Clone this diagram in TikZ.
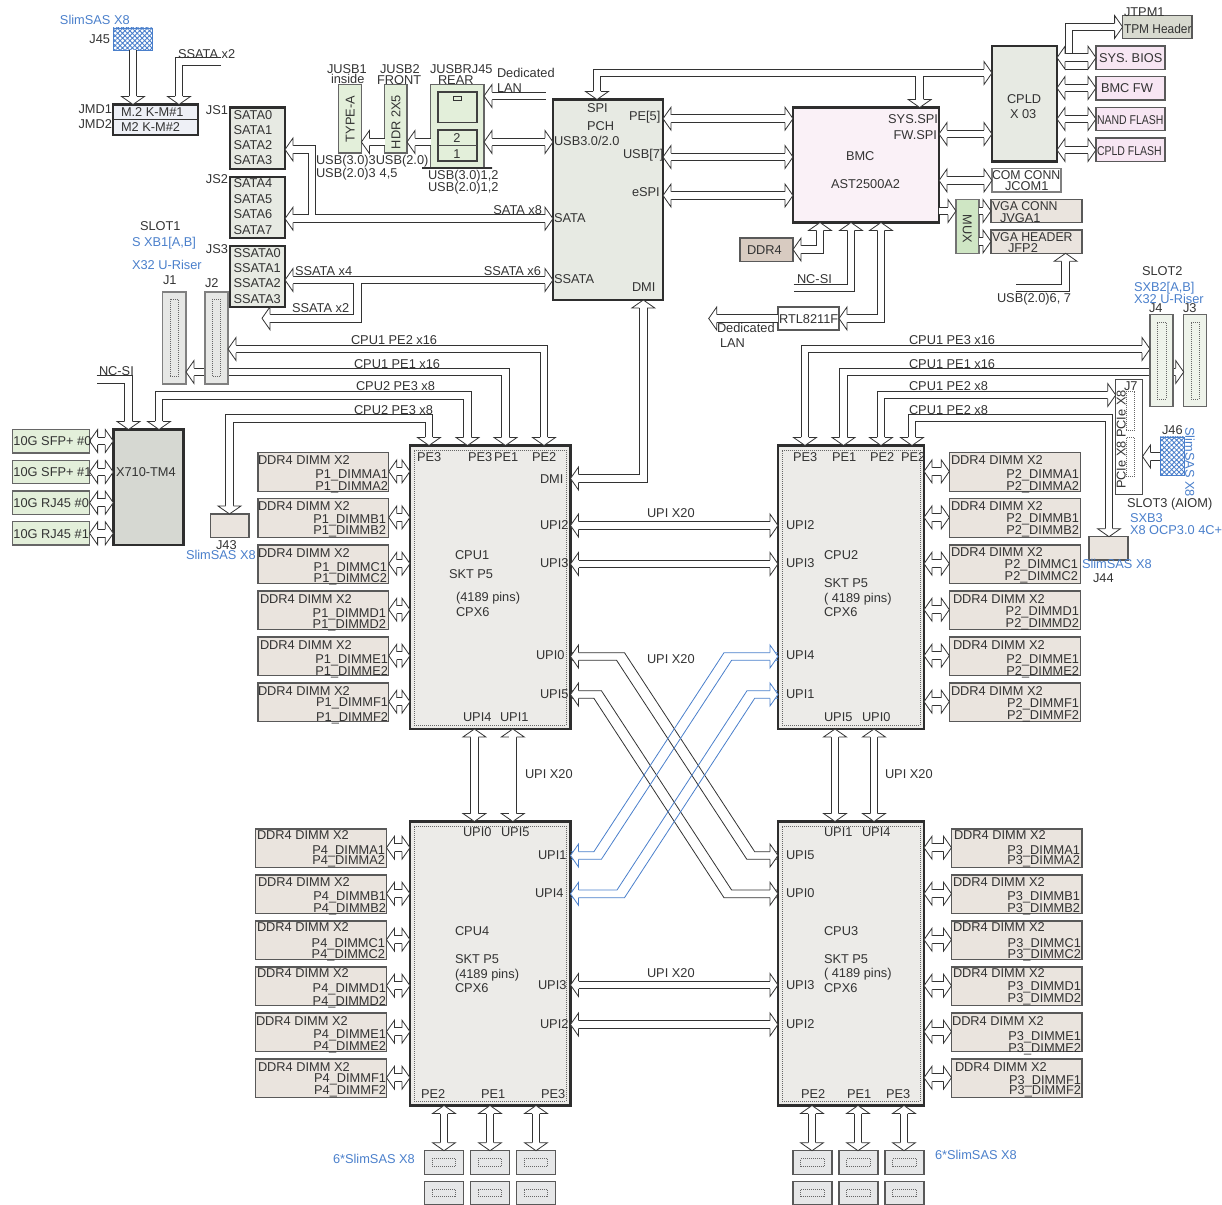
\documentclass[tikz,border=0pt]{standalone}
\usepackage{graphicx}
\usepackage{fontspec}
\setmainfont{Liberation Sans}
\usetikzlibrary{arrows.meta,patterns.meta,calc}
\definecolor{lineC}{HTML}{333333}
\definecolor{textC}{HTML}{333333}
\definecolor{blueC}{HTML}{4A7FCB}
\definecolor{cpuF}{HTML}{ECEBE8}
\definecolor{dimmF}{HTML}{EAE4DE}
\definecolor{pchF}{HTML}{E7EAE3}
\definecolor{bmcF}{HTML}{FAF1F7}
\definecolor{flashF}{HTML}{F7E6F3}
\definecolor{greenF}{HTML}{E3EFDA}
\definecolor{paleG}{HTML}{EEF3EA}
\definecolor{xF}{HTML}{D6D8D2}
\definecolor{ddrF}{HTML}{D8CBC1}
\definecolor{muxF}{HTML}{CFE6C4}
\definecolor{tpmF}{HTML}{D8DACF}
\definecolor{slotF}{HTML}{E6E7E5}
\definecolor{sasF}{HTML}{E6E7E8}
\definecolor{mtwoF}{HTML}{EEF0F6}
\pgfdeclarearrow{
  name=FatTip,
  setup code={
    \pgfarrowssettipend{6pt}
    \pgfarrowssetbackend{0pt}
    \pgfarrowssetlineend{0pt}
    \pgfarrowssetvisualbackend{0pt}
  },
  drawing code={
    \pgfsetlinewidth{0.6pt}
    \pgfsetdash{}{0pt}
    \pgfsetmiterjoin
    \pgfsetbuttcap
    \pgfsetfillcolor{white}
    \pgfpathmoveto{\pgfqpoint{0pt}{2.92pt}}
    \pgfpathlineto{\pgfqpoint{0pt}{8.6pt}}
    \pgfpathlineto{\pgfqpoint{6pt}{0pt}}
    \pgfpathlineto{\pgfqpoint{0pt}{-8.6pt}}
    \pgfpathlineto{\pgfqpoint{0pt}{-2.92pt}}
    \pgfusepathqfillstroke
  }
}
\tikzset{
  box/.style={draw=lineC,line width=.6pt,inner sep=0pt,outer sep=0pt,rectangle},
  heavy/.style={draw=black!82,line width=2.2pt},
  cpubox/.style={heavy,fill=cpuF},
  pchbox/.style={heavy,fill=pchF},
  dimmbox/.style={draw=black!65,line width=.8pt,fill=dimmF},
  flashbox/.style={draw=black!65,line width=.8pt,fill=flashF},
  greenbox/.style={draw=black!60,line width=.8pt,fill=greenF},
  slotbox/.style={draw=black!50,line width=.8pt,fill=slotF},
  paleslot/.style={draw=black!60,line width=.8pt,fill=paleG},
  sasbox/.style={draw=black!65,line width=.8pt,fill=sasF},
  dots/.style={draw=black!60,line width=.5pt,densely dotted,fill=none},
  hatchbox/.style={draw=blueC,line width=.7pt,pattern={Hatch[angle=45,distance=2.6pt,line width=.65pt]},pattern color=blueC},
  fatbus/.style={draw=lineC,line width=.6pt,double=white,double distance=5.2pt,line join=miter},
  bi/.style={fatbus,arrows={FatTip-FatTip}},
  one/.style={fatbus,arrows={-FatTip}},
  twin/.style={draw=lineC,line width=.6pt,line join=miter},
  twinblue/.style={draw=blueC,line width=.6pt,line join=miter},
  lab/.style={inner sep=0pt,outer sep=0pt,text=textC,font=\fontsize{9.6}{11}\selectfont,text height=7pt,text depth=0pt},
  bluelab/.style={text=blueC}
}
\newcounter{labc}
\newcommand\LabL[4][]{\stepcounter{labc}\node[lab,anchor=west,#1] (lab\thelabc) at (#2,#3) {#4};}
\newcommand\LabR[4][]{\stepcounter{labc}\node[lab,anchor=east,#1] (lab\thelabc) at (#2,#3) {#4};}
\newcommand\LabC[4][]{\stepcounter{labc}\node[lab,anchor=center,#1] (lab\thelabc) at (#2,#3) {#4};}
\newcommand\bx[6][]{\node[box,#1,minimum width={((#5)-(#3))*0.75pt},minimum height={((#6)-(#4))*0.75pt}] (#2) at ({((#3)+(#5))/2},{((#4)+(#6))/2}) {};}
\begin{document}
\begin{tikzpicture}[x=0.75pt,y=-0.75pt]
\useasboundingbox (0,0) rectangle (1222,1205);
% ---------- CPUs
\bx[cpubox]{cpu1}{410}{445.5}{570.5}{729}
\bx[cpubox]{cpu2}{778}{445.5}{924}{729}
\bx[cpubox]{cpu4}{410}{821.5}{570.5}{1105.5}
\bx[cpubox]{cpu3}{778}{821.5}{924}{1105.5}
\bx[dots]{cpu1in}{414}{450}{566}{725}
\bx[dots]{cpu2in}{782}{450}{920}{725}
\bx[dots]{cpu4in}{414}{826}{566}{1101}
\bx[dots]{cpu3in}{782}{826}{920}{1101}
% ---------- PCH, BMC, CPLD
\bx[pchbox]{pch}{553}{99.5}{663}{300}
\bx[heavy,fill=bmcF]{bmc}{793}{107.5}{939}{222.5}
\bx[pchbox]{cpld}{992}{46}{1057}{161.5}
% ---------- small top boxes
\bx[hatchbox]{jff}{113}{28}{152}{50}
\bx[heavy,fill=mtwoF]{mtwo}{113}{104.5}{198}{135}
\draw[line width=.8pt,draw=lineC] (mtwo.west |- 0,119.5) -- (mtwo.east |- 0,119.5);
\bx[heavy,fill=pchF]{jsone}{230}{107.5}{285}{169}
\bx[heavy,fill=pchF]{jstwo}{230}{177}{285}{238}
\bx[heavy,fill=pchF]{jsthree}{230}{246}{285}{307}
\bx[greenbox]{typea}{338.6}{84.7}{361.4}{153}
\bx[greenbox]{hdr}{384.6}{84.7}{407}{153}
\bx[greenbox]{rj}{430.7}{84.7}{484}{168}
\draw[line width=1.2pt,draw=black!80] (422,168) -- (rj.south) -- (492,168);
\bx[greenbox,draw=black!75]{rjup}{438}{92}{477}{122.7}
\bx[fill=greenF]{rjsmall}{453.5}{96}{461.5}{100}
\bx[greenbox,draw=black!75]{rjlow}{438}{130}{477}{161}
\draw[line width=.6pt,draw=black!70] (rjlow.west |- 0,145.7) -- (rjlow.east |- 0,145.7);
\bx[flashbox]{sysbios}{1096}{46}{1165}{69.3}
\bx[flashbox]{bmcfw}{1096}{76.7}{1165}{100}
\bx[flashbox]{nand}{1096}{107.3}{1165}{130.7}
\bx[flashbox]{cpldfl}{1096}{138}{1165}{161.3}
\bx[draw=black!65,line width=.8pt,fill=tpmF]{tpm}{1122.6}{15.3}{1192}{38.3}
\bx[draw=black!50,line width=.8pt,fill=white]{com}{992}{168.7}{1061}{192}
\bx[dimmbox]{vgaa}{991}{199.3}{1082}{222.7}
\bx[dimmbox]{vgab}{991}{230}{1082}{253.3}
\bx[draw=black!55,line width=.8pt,fill=muxF]{mux}{956}{199.3}{979}{253.3}
\bx[draw=black!65,line width=1pt,fill=ddrF]{ddr}{740}{238}{793}{261.3}
\bx[draw=black!65,line width=.8pt,fill=white]{rtl}{778}{307}{839}{330}
% ---------- X710 group
\bx[heavy,fill=xF]{xten}{113.3}{429.5}{183.3}{545}
\bx[greenbox]{tena}{12.2}{429.3}{89.6}{453}
\bx[greenbox]{tenb}{12.2}{460.3}{89.6}{483.7}
\bx[greenbox]{tenc}{12.2}{491}{89.6}{514.3}
\bx[greenbox]{tend}{12.2}{521.7}{89.6}{545}
\bx[dimmbox]{jft}{210.5}{514}{249}{537.3}
\bx[dimmbox]{jffr}{1089}{536.7}{1128}{560}
% ---------- J7, J46
\bx[draw=black!70,line width=.7pt,fill=white]{jsev}{1115.7}{379.3}{1142.5}{494}
\bx[dots]{jseva}{1126}{391.7}{1134.3}{430}
\bx[dots]{jsevb}{1126}{437.3}{1134.3}{476}
\bx[hatchbox]{jfs}{1160}{437}{1184}{475.7}
% ---------- slots: J1 and J3 first, their buses pass under J2 and J4
\bx[slotbox]{jone}{162.5}{292}{186}{384}
\bx[dots]{jonein}{170}{299}{178.5}{376}
\bx[paleslot]{jthree}{1183.7}{314.7}{1206.7}{406.7}
\bx[dots]{jthreein}{1191}{322}{1199}{399}
\draw[bi] (jone.east |- 0,372) -- (505.5,372) -- (505.5,372 |- cpu1.north);
\draw[bi] (jthree.west |- 0,372) -- (843.5,372) -- (843.5,372 |- cpu2.north);
\bx[slotbox]{jtwo}{205}{292}{228}{384}
\bx[dots]{jtwoin}{212.5}{299}{220}{376}
\bx[paleslot]{jfour}{1150}{314.7}{1173}{406.7}
\bx[dots]{jfourin}{1157}{322}{1166}{399}
% ---------- DIMMs
\foreach \L/\ty/\hx/\hy/\ya/\yb/\rr in {A/452.7/258/459.7/474/486/388,B/498.7/258/505.7/519/530/386,C/545/258/552.7/567/578/387,D/591/260/598.7/613/624/386,E/637/260/644.7/659/671/388,F/683/258/690.7/702/717/388}{
  \bx[dimmbox]{da\L}{258}{\ty}{388.8}{\ty+38.7}
  \draw[bi] (da\L.east |- 0,\ty+18.7) -- (cpu1.west |- 0,\ty+18.7);
  \LabL{\hx}{\hy}{DDR4 DIMM X2}
  \LabR{\rr}{\ya}{P1\_DIMM\L1}
  \LabR{\rr}{\yb}{P1\_DIMM\L2}
}
\foreach \L/\ty/\hx/\hy/\ya/\yb/\rr in {A/452.7/951/459.7/474/486/1079,B/498.7/951/505.7/518/530/1079,C/545/951/552/564/576/1078,D/591/953/598.7/611/623/1079,E/637/953/644.7/659/671/1079,F/683/951/690.7/703/715/1079}{
  \bx[dimmbox]{db\L}{949.3}{\ty}{1080.3}{\ty+38.7}
  \draw[bi] (db\L.west |- 0,\ty+18.7) -- (cpu2.east |- 0,\ty+18.7);
  \LabL{\hx}{\hy}{DDR4 DIMM X2}
  \LabR{\rr}{\ya}{P2\_DIMM\L1}
  \LabR{\rr}{\yb}{P2\_DIMM\L2}
}
\foreach \L/\ty/\hx/\hy/\ya/\yb/\rr in {A/829/257/835/850/860/385,B/875/258/882/896/908/386,C/921/257/927/943/954/385,D/967/257/973/988/1001/386,E/1013/256/1021/1034/1046/386,F/1059/258/1067/1078/1090/386}{
  \bx[dimmbox]{dc\L}{255.5}{\ty}{386.5}{\ty+38.7}
  \draw[bi] (dc\L.east |- 0,\ty+18.7) -- (cpu4.west |- 0,\ty+18.7);
  \LabL{\hx}{\hy}{DDR4 DIMM X2}
  \LabR{\rr}{\ya}{P4\_DIMM\L1}
  \LabR{\rr}{\yb}{P4\_DIMM\L2}
}
\foreach \L/\ty/\hx/\hy/\ya/\yb/\rr in {A/829/954/835/850/860/1080,B/875/953/882/896/908/1080,C/921/953/927/943/954/1081,D/967/953/973/986/998/1081,E/1013/952/1021/1036/1048/1081,F/1059/955/1067/1080/1090/1081}{
  \bx[dimmbox]{dd\L}{951.5}{\ty}{1082}{\ty+38.7}
  \draw[bi] (dd\L.west |- 0,\ty+18.7) -- (cpu3.east |- 0,\ty+18.7);
  \LabL{\hx}{\hy}{DDR4 DIMM X2}
  \LabR{\rr}{\ya}{P3\_DIMM\L1}
  \LabR{\rr}{\yb}{P3\_DIMM\L2}
}
% ---------- SlimSAS rows
\foreach \n/\xa in {a/424.3,b/470.4,c/516.5,d/793,e/839,f/885}{
  \bx[sasbox]{st\n}{\xa}{1150.7}{\xa+39}{1174.3}
  \bx[sasbox]{sb\n}{\xa}{1181.3}{\xa+39}{1204.4}
  \bx[dots]{sti\n}{\xa+7.7}{1158.6}{\xa+31.3}{1166.3}
  \bx[dots]{sbi\n}{\xa+7.7}{1189}{\xa+31.3}{1196.7}
}
\foreach \n/\cc/\xc in {a/cpu4/444,b/cpu4/490,c/cpu4/536,d/cpu3/812,e/cpu3/858,f/cpu3/904}{
  \draw[bi] (\xc,0 |- \cc.south) -- (\xc,0 |- st\n.north);
}
% ---------- buses, top
\draw[one] (jff.south -| 133,0) -- (mtwo.north -| 133,0);
\coordinate (ssatafree) at (221,61.5);
\draw[one] (ssatafree) -- (179,61.5) -- (mtwo.north -| 179,0);
\draw[one] (hdr.west |- 0,142) -- (typea.east |- 0,142);
\draw[one] (rj.west |- 0,142) -- (hdr.east |- 0,142);
\draw[bi] (rj.east |- 0,142) -- (pch.west |- 0,142);
\coordinate (lanfree) at (546,96);
\draw[one] (lanfree) -- (rj.east |- 0,96);
\draw[bi] (jstwo.east |- 0,218.7) -- (pch.west |- 0,218.7);
\draw[fatbus,arrows={-FatTip}] (312,215.3) -- (312,149.5) -- (jsone.east |- 0,149.5);
\draw[bi] (jsthree.east |- 0,280) -- (pch.west |- 0,280);
\coordinate (ssatatwo) at (262,318.3);
\draw[fatbus,arrows={-FatTip}] (357.5,283.4) -- (357.5,318.3) -- (ssatatwo);
% PCH, BMC, CPLD
\draw[bi] (597,0 |- pch.north) -- (597,73) -- (cpld.west |- 0,73);
\draw[fatbus,arrows={-FatTip}] (919.7,76.4) -- (919.7,0 |- bmc.north);
\draw[bi] (pch.east |- 0,118.7) -- (bmc.west |- 0,118.7);
\draw[bi] (pch.east |- 0,157) -- (bmc.west |- 0,157);
\draw[bi] (pch.east |- 0,195.5) -- (bmc.west |- 0,195.5);
\draw[bi] (bmc.east |- 0,134) -- (cpld.west |- 0,134);
\draw[bi] (bmc.east |- 0,180.5) -- (com.west |- 0,180.5);
\draw[one] (bmc.east |- 0,211) -- (mux.west |- 0,211);
\draw[one] (mux.east |- 0,211) -- (vgaa.west |- 0,211);
\draw[one] (mux.east |- 0,241.5) -- (vgab.west |- 0,241.5);
\coordinate (usbfree) at (1016,288);
\draw[one] (usbfree) -- (1065.6,288) -- (1065.6,0 |- vgab.south);
\draw[bi] (ddr.east |- 0,249.5) -- (820,249.5) -- (820,0 |- bmc.south);
\coordinate (ncfree) at (793.5,288);
\draw[one] (ncfree) -- (851,288) -- (851,0 |- bmc.south);
\draw[bi] (rtl.east |- 0,318.5) -- (881,318.5) -- (881,0 |- bmc.south);
\coordinate (dedfree) at (708.7,318.5);
\draw[one] (rtl.west |- 0,318.5) -- (dedfree);
% CPLD outputs
\draw[bi] (cpld.east |- 0,57.7) -- (sysbios.west |- 0,57.7);
\draw[fatbus,arrows={-FatTip}] (1069,53.4) -- (1069,27) -- (tpm.west |- 0,27);
\draw[twin] (1065,69.2) -- (1088,69.2);
\draw[bi] (cpld.east |- 0,88) -- (bmcfw.west |- 0,88);
\draw[bi] (cpld.east |- 0,119) -- (nand.west |- 0,119);
\draw[bi] (cpld.east |- 0,150) -- (cpldfl.west |- 0,150);
% CPU1 top buses
\draw[bi] (jtwo.east |- 0,349) -- (544,349) -- (544,0 |- cpu1.north);
\draw[bi] (159,0 |- xten.north) -- (159,395.5) -- (467.5,395.5) -- (467.5,0 |- cpu1.north);
\draw[bi] (229.5,0 |- jft.north) -- (229.5,418.5) -- (429,418.5) -- (429,0 |- cpu1.north);
\coordinate (ncxfree) at (96.5,379.5);
\draw[one] (ncxfree) -- (128.5,379.5) -- (128.5,0 |- xten.north);
\foreach \n/\yy in {tena/441,tenb/472,tenc/502.7,tend/533.3}{
  \draw[bi] (\n.east |- 0,\yy) -- (xten.west |- 0,\yy);
}
% CPU2 top buses
\draw[bi] (805,0 |- cpu2.north) -- (805,349) -- (jfour.west |- 0,349);
\draw[bi] (881,0 |- cpu2.north) -- (881,395) -- (jsev.west |- 0,395);
\draw[bi] (912,0 |- cpu2.north) -- (912,418) -- (1109,418) -- (1109,0 |- jffr.north);
\draw[one] (jfs.west |- 0,456.5) -- (jsev.east |- 0,456.5);
% DMI and UPI
\draw[bi] (cpu1.east |- 0,478.5) -- (643.3,478.5) -- (643.3,0 |- pch.south);
\draw[bi] (cpu1.east |- 0,525.5) -- (cpu2.west |- 0,525.5);
\draw[bi] (cpu1.east |- 0,564) -- (cpu2.west |- 0,564);
\draw[bi] (cpu4.east |- 0,985) -- (cpu3.west |- 0,985);
\draw[bi] (cpu4.east |- 0,1024.5) -- (cpu3.west |- 0,1024.5);
\draw[bi] (474.4,0 |- cpu1.south) -- (474.4,0 |- cpu4.north);
\draw[bi] (512.8,0 |- cpu1.south) -- (512.8,0 |- cpu4.north);
\draw[bi] (835,0 |- cpu2.south) -- (835,0 |- cpu3.north);
\draw[bi] (874,0 |- cpu2.south) -- (874,0 |- cpu3.north);
% crossing UPI links: two separate lines, so that crossings stay see-through
\draw[twin] (cpu1.east |- 0,652.7) -- (624.5,652.7) -- (754.7,851.7) -- (cpu3.west |- 0,851.7);
\draw[twin] (cpu1.east |- 0,660.3) -- (616.6,660.3) -- (746.8,859.3) -- (cpu3.west |- 0,859.3);
\draw[twin] (cpu1.east |- 0,690.7) -- (601.4,690.7) -- (731.6,890) -- (cpu3.west |- 0,890);
\draw[twin] (cpu1.east |- 0,698.3) -- (593.9,698.3) -- (724,897.7) -- (cpu3.west |- 0,897.7);
\draw[twinblue] (cpu2.west |- 0,652.7) -- (724,652.7) -- (593.9,851.7) -- (cpu4.east |- 0,851.7);
\draw[twinblue] (cpu2.west |- 0,660.3) -- (731.6,660.3) -- (601.4,859.3) -- (cpu4.east |- 0,859.3);
\draw[twinblue] (cpu2.west |- 0,690.7) -- (747,690.7) -- (617,890) -- (cpu4.east |- 0,890);
\draw[twinblue] (cpu2.west |- 0,698.3) -- (754.7,698.3) -- (624.5,897.7) -- (cpu4.east |- 0,897.7);
\foreach \yy in {656.5,694.5}{
  \draw[one] (578.5,\yy) -- (cpu1.east |- 0,\yy);
  \draw[one,draw=blueC] (770,\yy) -- (cpu2.west |- 0,\yy);
}
\foreach \yy in {855.5,893.8}{
  \draw[one] (770,\yy) -- (cpu3.west |- 0,\yy);
  \draw[one,draw=blueC] (578.5,\yy) -- (cpu4.east |- 0,\yy);
}
% ---------- labels, top left
\LabL[bluelab]{60}{20}{SlimSAS X8}
\LabR{110}{39}{J45}
\LabL{178}{54}{SSATA x2}
\LabR{112}{109}{JMD1}
\LabR{112}{124}{JMD2}
\LabL{121}{112}{M.2 K-M\#1}
\LabL{121}{127}{M2 K-M\#2}
\LabR{228}{110}{JS1}
\LabR{228}{179}{JS2}
\LabR{228}{249}{JS3}
\foreach \t/\yy in {SATA0/115,SATA1/130,SATA2/145,SATA3/160,SATA4/183,SATA5/199,SATA6/214,SATA7/230}{\LabL{233.5}{\yy}{\t}}
\foreach \t/\yy in {SSATA0/253,SSATA1/268,SSATA2/283,SSATA3/299}{\LabL{233.5}{\yy}{\t}}
\LabL{140}{226}{SLOT1}
\LabL[bluelab]{132}{242}{S XB1[A,B]}
\LabL[bluelab]{132}{265}{X32 U-Riser}
\LabL{163}{280}{J1}
\LabL{205}{283}{J2}
\LabL{327}{69}{JUSB1}
\LabL{331}{79}{inside}
\LabL{380}{69}{JUSB2}
\LabL{377}{80}{FRONT}
\LabL{430}{69}{JUSBRJ45}
\LabL{438}{80}{REAR}
\LabL{497}{73}{Dedicated}
\LabL{497}{88}{LAN}
\LabC[rotate=90]{350}{119}{TYPE-A}
\LabC[rotate=90]{395.8}{122}{HDR 2X5}
\LabC{457}{138}{2}
\LabC{457}{154}{1}
\LabL{316}{160}{USB(3.0)3USB(2.0)}
\LabL{316}{173}{USB(2.0)3\hspace{3pt}4,5}
\LabL{428}{175}{USB(3.0)1,2}
\LabL{428}{187}{USB(2.0)1,2}
\LabR{542}{210}{SATA x8}
\LabR{541}{271}{SSATA x6}
\LabL{295}{271}{SSATA x4}
\LabL{292}{308}{SSATA x2}
% PCH
\LabL{587}{108}{SPI}
\LabL{587}{126}{PCH}
\LabL{554}{141}{USB3.0/2.0}
\LabL{629}{116}{PE[5]}
\LabL{623}{154}{USB[7]}
\LabL{632}{192}{eSPI}
\LabL{554}{218}{SATA}
\LabL{554}{279}{SSATA}
\LabL{632}{287}{DMI}
% BMC
\LabR{938}{119}{SYS.SPI}
\LabR{937}{135}{FW.SPI}
\LabL{846}{156}{BMC}
\LabL{831}{184}{AST2500A2}
\LabL{1007}{99}{CPLD}
\LabL{1010}{114}{X 03}
\LabL{1124}{12}{JTPM1}
\LabL{1124}{29}{\scalebox{.93}[1]{TPM Header}}
\LabL{1099}{58}{SYS. BIOS}
\LabL{1101}{88}{BMC FW}
\LabL{1097}{119.5}{\scalebox{.82}[1]{NAND FLASH}}
\LabL{1097}{150.5}{\scalebox{.82}[1]{CPLD FLASH}}
\LabL{992}{175}{\scalebox{.96}[1]{COM CONN}}
\LabL{1005}{186}{JCOM1}
\LabL{992}{206}{\scalebox{.96}[1]{VGA CONN}}
\LabL{1000}{218}{JVGA1}
\LabL{992}{237}{\scalebox{.96}[1]{VGA HEADER}}
\LabL{1008}{248}{JFP2}
\LabC[rotate=-90]{967.5}{229}{MUX}
\LabL{747}{250}{DDR4}
\LabL{797}{279}{NC-SI}
\LabL{779}{318.5}{RTL8211F}
\LabL{717}{328}{Dedicated}
\LabL{720}{343}{LAN}
\LabL{997}{298}{USB(2.0)6, 7}
\LabL{1142}{271}{SLOT2}
\LabL[bluelab]{1134}{287}{SXB2[A,B]}
\LabL[bluelab]{1134}{299}{X32 U-Riser}
\LabL{1149}{308}{J4}
\LabL{1183}{308}{J3}
% buses labels
\LabL{351}{340}{CPU1 PE2 x16}
\LabL{354}{364}{CPU1 PE1 x16}
\LabL{356}{386}{CPU2 PE3 x8}
\LabL{354}{410}{CPU2 PE3 x8}
\LabL{909}{340}{CPU1 PE3 x16}
\LabL{909}{364}{CPU1 PE1 x16}
\LabL{909}{386}{CPU1 PE2 x8}
\LabL{909}{410}{CPU1 PE2 x8}
\LabL{99}{371}{NC-SI}
\LabL{116}{472}{X710-TM4}
\LabL{13.5}{441}{10G SFP+ \#0}
\LabL{13.5}{472}{10G SFP+ \#1}
\LabL{13.5}{503}{10G RJ45 \#0}
\LabL{13.5}{534}{10G RJ45 \#1}
\LabL{216}{545}{J43}
\LabL[bluelab]{186}{555}{SlimSAS X8}
% J7 etc
\LabL{1124}{386}{J7}
\LabC[rotate=90]{1121}{414}{PCIe X8}
\LabC[rotate=90]{1121}{465}{PCIe X8}
\LabL{1162}{430}{J46}
\LabC[bluelab,rotate=-90]{1190}{462}{SlimSAS X8}
\LabL{1127}{503}{SLOT3 (AIOM)}
\LabL[bluelab]{1130}{518}{SXB3}
\LabL[bluelab]{1130}{530}{X8 OCP3.0 4C+}
\LabL[bluelab]{1082}{564}{SlimSAS X8}
\LabL{1093}{578}{J44}
% CPU1
\LabL{417}{457}{PE3}\LabL{468}{457}{PE3}\LabL{494}{457}{PE1}\LabL{532}{457}{PE2}
\LabL{540}{479}{DMI}\LabL{540}{525}{UPI2}\LabL{540}{563}{UPI3}\LabL{536}{655}{UPI0}\LabL{540}{694}{UPI5}
\LabL{463}{717}{UPI4}\LabL{500}{717}{UPI1}
\LabL{455}{555}{CPU1}\LabL{449}{574}{SKT P5}\LabL{456}{597}{(4189 pins)}\LabL{456}{612}{CPX6}
% CPU2
\LabL{793}{457}{PE3}\LabL{832}{457}{PE1}\LabL{870}{457}{PE2}\LabL{901}{457}{PE2}
\LabL{786}{525}{UPI2}\LabL{786}{563}{UPI3}\LabL{786}{655}{UPI4}\LabL{786}{694}{UPI1}
\LabL{824}{717}{UPI5}\LabL{862}{717}{UPI0}
\LabL{824}{555}{CPU2}\LabL{824}{583}{SKT P5}\LabL{824}{598}{( 4189 pins)}\LabL{824}{612}{CPX6}
% CPU3
\LabL{824}{832}{UPI1}\LabL{862}{832}{UPI4}\LabL{786}{855}{UPI5}\LabL{786}{893}{UPI0}
\LabL{824}{931}{CPU3}\LabL{824}{959}{SKT P5}\LabL{824}{973}{( 4189 pins)}\LabL{824}{988}{CPX6}
\LabL{786}{985}{UPI3}\LabL{786}{1024}{UPI2}
\LabL{801}{1094}{PE2}\LabL{847}{1094}{PE1}\LabL{886}{1094}{PE3}
% CPU4
\LabL{463}{832}{UPI0}\LabL{501}{832}{UPI5}\LabL{538}{855}{UPI1}\LabL{535}{893}{UPI4}
\LabL{455}{931}{CPU4}\LabL{455}{959}{SKT P5}\LabL{455}{974}{(4189 pins)}\LabL{455}{988}{CPX6}
\LabL{538}{985}{UPI3}\LabL{540}{1024}{UPI2}
\LabL{421}{1094}{PE2}\LabL{481}{1094}{PE1}\LabL{541}{1094}{PE3}
% UPI labels
\LabL{647}{513}{UPI X20}
\LabL{647}{659}{UPI X20}
\LabL{525}{774}{UPI X20}
\LabL{885}{774}{UPI X20}
\LabL{647}{973}{UPI X20}
\LabL[bluelab]{333}{1159}{6*SlimSAS X8}
\LabL[bluelab]{935}{1155}{6*SlimSAS X8}
\end{tikzpicture}
\end{document}
